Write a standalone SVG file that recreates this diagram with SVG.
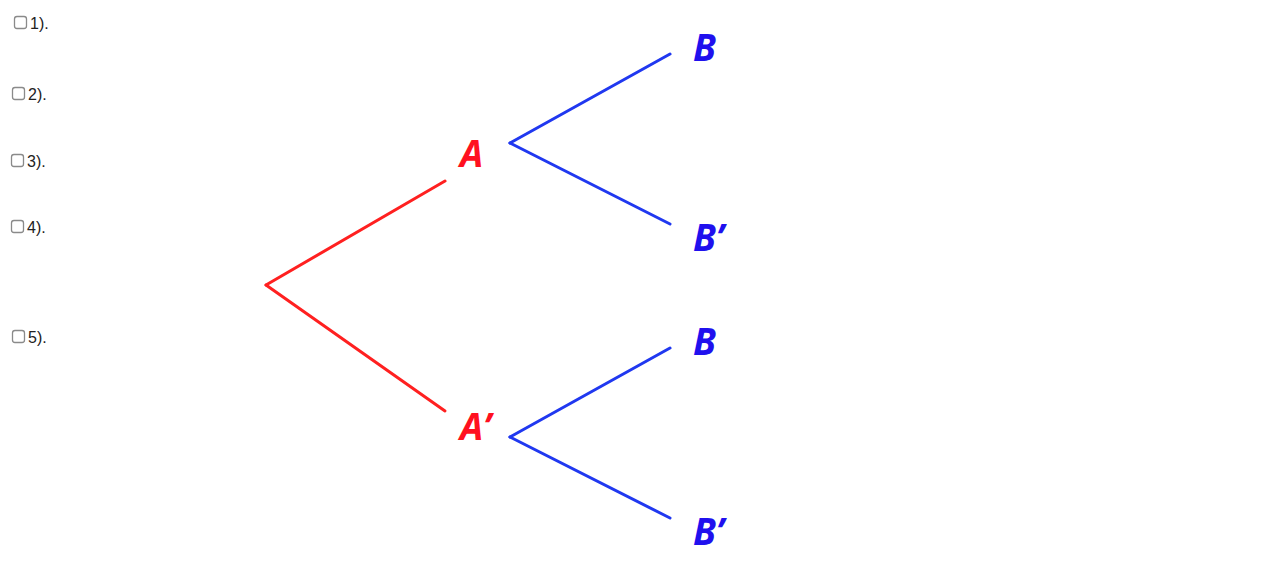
<svg xmlns="http://www.w3.org/2000/svg" width="1280" height="581" viewBox="0 0 1280 581">
<style>
.cb{fill:#fff;stroke:#8a8a8a;stroke-width:1.3}
.lbl{font-family:"Liberation Sans",Arial,sans-serif;font-size:16px;fill:#222}
.red{stroke:#ff2020;stroke-width:3;fill:none;stroke-linecap:round}
.blue{stroke:#2038f0;stroke-width:3;fill:none;stroke-linecap:round}
.tr{font-family:"Open Sans","Liberation Sans",sans-serif;font-weight:bold;font-style:italic;font-size:37px;fill:#ff1020}
.tb{font-family:"Open Sans","Liberation Sans",sans-serif;font-weight:bold;font-style:italic;font-size:37px;fill:#2010ee}
</style>
<rect width="1280" height="581" fill="#fff"/>
<g id="opt1"><rect class="cb" x="14.5" y="16.5" width="12" height="12" rx="2.5"/><text class="lbl" x="30" y="29">1).</text></g>
<g id="opt2"><rect class="cb" x="12.5" y="87.5" width="12" height="12" rx="2.5"/><text class="lbl" x="28" y="100">2).</text></g>
<g id="opt3"><rect class="cb" x="11.5" y="154.5" width="12" height="12" rx="2.5"/><text class="lbl" x="27" y="167">3).</text></g>
<g id="opt4"><rect class="cb" x="11.5" y="220.5" width="12" height="12" rx="2.5"/><text class="lbl" x="27" y="233">4).</text></g>
<g id="opt5"><rect class="cb" x="12.5" y="330.5" width="12" height="12" rx="2.5"/><text class="lbl" x="28" y="343">5).</text></g>
<g id="connectors">
<line class="red" x1="266" y1="285" x2="445" y2="181"/>
<line class="red" x1="266" y1="285" x2="445" y2="411"/>
<line class="blue" x1="510" y1="143" x2="670" y2="54"/>
<line class="blue" x1="510" y1="143" x2="670" y2="224"/>
<line class="blue" x1="510" y1="437" x2="670" y2="348"/>
<line class="blue" x1="510" y1="437" x2="670" y2="518"/>
</g>
<g id="nodeA"><text class="tr" x="460" y="167">A</text></g>
<g id="nodeA2"><text class="tr" x="460" y="440">A’</text></g>
<g id="nodeB1"><text class="tb" x="693" y="61">B</text></g>
<g id="nodeB1p"><text class="tb" x="693" y="251">B’</text></g>
<g id="nodeB2"><text class="tb" x="693" y="355">B</text></g>
<g id="nodeB2p"><text class="tb" x="693" y="545">B’</text></g>
</svg>
